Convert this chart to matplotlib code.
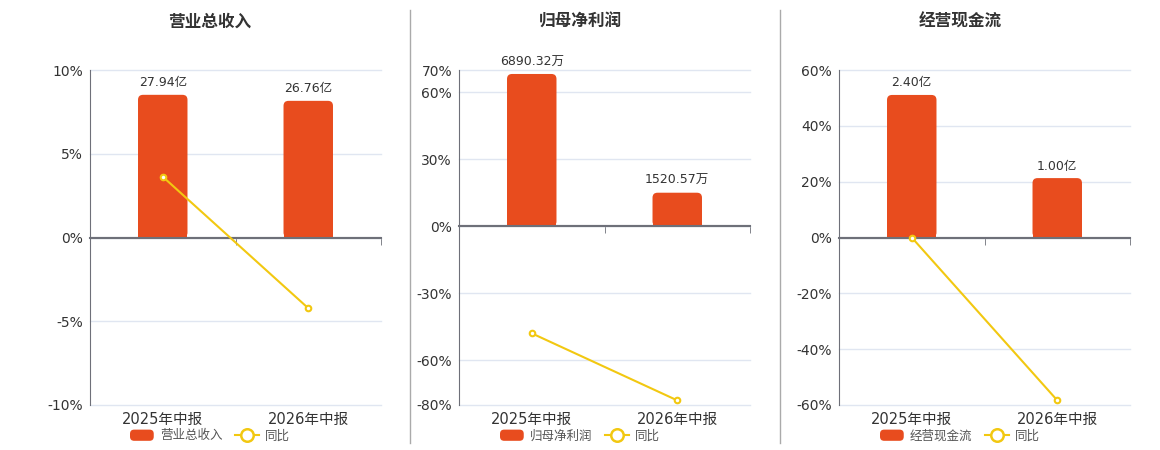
import matplotlib
matplotlib.use("Agg")
import matplotlib.pyplot as plt
from matplotlib.lines import Line2D
from matplotlib.patches import Patch, FancyBboxPatch, Rectangle
from matplotlib.legend_handler import HandlerPatch
from matplotlib.ticker import FixedLocator

plt.rcParams['font.family'] = ['DejaVu Sans', 'Noto Sans CJK SC']

# data
categories = ["2025年中报", "2026年中报"]
titles = ["营业总收入", "归母净利润", "经营现金流"]
bar_values = [[27.94, 26.76], [6890.32, 1520.57], [2.40, 1.00]]
bar_labels = [["27.94亿", "26.76亿"], ["6890.32万", "1520.57万"], ["2.40亿", "1.00亿"]]
yoy_values = [[3.63, -4.22], [-47.9, -77.93], [0.0, -58.33]]
yticks = [[-10, -5, 0, 5, 10], [-80, -60, -30, 0, 30, 60, 70], [-60, -40, -20, 0, 20, 40, 60]]

# layout (pixels)
W, H = 1160, 450
ax_left = [90, 459, 839]
ax_width = 291
ax_top, ax_bottom = 70, 405
bar_axis_top = [32.8, 7070, 2.82]
panel_cx = [210, 580, 960]
bar_w = 0.34
radius_px = 5

BAR = '#e84c1e'
LINE = '#f2c811'
AXIS = '#6e7079'
GRID = '#e0e6f1'
TXT = '#333333'


def rounded_handle(legend, orig_handle, xdescent, ydescent, width, height, fontsize):
    return FancyBboxPatch((-xdescent, -ydescent), width, height,
                          boxstyle='round,pad=0,rounding_size=3')


fig = plt.figure(figsize=(W / 100, H / 100), dpi=100)

for i in range(3):
    rect = [ax_left[i] / W, (H - ax_bottom) / H, ax_width / W, (ax_bottom - ax_top) / H]
    ax = fig.add_axes(rect)
    lo, hi = yticks[i][0], yticks[i][-1]
    ax.set_ylim(lo, hi)
    ax.set_xlim(-0.5, 1.5)
    ax.set_yticks(yticks[i])
    ax.set_yticklabels([f"{t}%" for t in yticks[i]])
    ax.yaxis.grid(True, color=GRID, lw=1, clip_on=False)
    ax.set_axisbelow(True)
    for s in ['right', 'bottom']:
        ax.spines[s].set_visible(False)
    ax.spines['left'].set_color(AXIS)
    ax.spines['top'].set_position(('data', 0))
    ax.spines['top'].set_color(AXIS)
    ax.spines['top'].set_linewidth(1.5)
    ax.set_xticks(range(len(categories)))
    ax.set_xticklabels(categories, fontsize=10.5, color=TXT)
    ax.xaxis.set_minor_locator(FixedLocator([0.5, 1.5]))
    ax.tick_params(axis='x', which='major', length=0, pad=5)
    ax.tick_params(axis='x', which='minor', top=True, bottom=False,
                   direction='in', length=5, color=AXIS)
    ax.tick_params(axis='y', length=0, labelsize=10, labelcolor=TXT, pad=5)
    fig.text(panel_cx[i] / W, (H - 22) / H, titles[i], fontsize=12,
             fontweight='bold', color=TXT, ha='center', va='center')

    # bars on their own hidden scale, zero aligned with 0%
    bx = ax.twinx()
    t = bar_axis_top[i]
    b_lo = t * lo / hi
    bx.set_ylim(b_lo, t)
    bx.set_yticks([])
    for s in bx.spines.values():
        s.set_visible(False)
    bars = bx.bar(range(len(categories)), bar_values[i], width=bar_w, color=BAR)
    x_per_px = 2.0 / ax_width
    y_per_px = (t - b_lo) / (ax_bottom - ax_top)
    r = radius_px * x_per_px
    for b, lab in zip(bars, bar_labels[i]):
        b.set_visible(False)
        x0, h = b.get_x(), b.get_height()
        bx.add_patch(FancyBboxPatch((x0, 0), bar_w, h,
                                    boxstyle=f'round,pad=0,rounding_size={r}',
                                    mutation_aspect=y_per_px / x_per_px,
                                    facecolor=BAR, edgecolor='none'))
        bx.add_patch(Rectangle((x0, 0), bar_w, h / 2, facecolor=BAR, edgecolor='none'))
        bx.annotate(lab, (x0 + bar_w / 2, h),
                    xytext=(0, 4), textcoords='offset points',
                    ha='center', va='bottom', fontsize=9, color=TXT)

    # yoy line on top
    lx = ax.twinx()
    lx.set_ylim(lo, hi)
    lx.set_yticks([])
    for s in lx.spines.values():
        s.set_visible(False)
    lx.axhline(0, color=AXIS, lw=1.5)
    lx.plot(range(len(categories)), yoy_values[i], color=LINE, lw=1.5,
            marker='o', ms=4, mfc='white', mec=LINE, mew=1.5)

    handles = [Patch(facecolor=BAR, edgecolor='none'),
               Line2D([], [], color=LINE, lw=1.5, marker='o', ms=9,
                      mfc='white', mec=LINE, mew=1.8)]
    fig.legend(handles, [titles[i], "同比"], loc='center', ncol=2,
               bbox_to_anchor=(panel_cx[i] / W, (H - 436) / H),
               frameon=False, fontsize=9, handlelength=1.9, handleheight=1.0,
               columnspacing=1.0, handletextpad=0.5, labelcolor='#555555',
               handler_map={Patch: HandlerPatch(patch_func=rounded_handle)})

# separators between panels
for x in [410, 780]:
    fig.add_artist(Line2D([x / W, x / W], [(H - 443) / H, (H - 10) / H],
                          transform=fig.transFigure, color='#aaaaaa', lw=1))

fig.savefig("out.png", dpi=100, facecolor='white')
